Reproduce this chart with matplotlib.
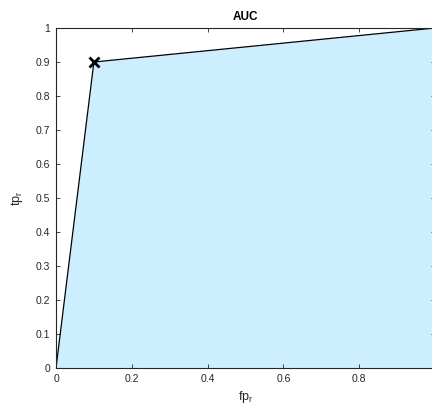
import matplotlib
matplotlib.use("Agg")
import matplotlib.pyplot as plt

# ROC points: false positive rate vs true positive rate
fp_rate = [0.0, 0.1, 1.0]
tp_rate = [0.0, 0.9, 1.0]
# operating point marked on the curve
op_fp = [0.1]
op_tp = [0.9]

x_ticks = [0, 0.2, 0.4, 0.6, 0.8, 1.0]
x_tick_labels = ['0', '0.2', '0.4', '0.6', '0.8', '']
y_ticks = [0, 0.1, 0.2, 0.3, 0.4, 0.5, 0.6, 0.7, 0.8, 0.9, 1.0]
y_tick_labels = ['0', '0.1', '0.2', '0.3', '0.4', '0.5', '0.6', '0.7', '0.8', '0.9', '1']

plt.rcParams['font.family'] = ['Liberation Sans', 'DejaVu Sans']
plt.rcParams['mathtext.fontset'] = 'custom'
plt.rcParams['mathtext.rm'] = 'Liberation Sans'
plt.rcParams['mathtext.default'] = 'regular'

axis_col = '#262626'
fig = plt.figure(figsize=(4.32, 4.12), dpi=100)
ax = fig.add_axes([56/432, 44/412, (435-56)/432, (368-28)/412])

ax.fill_between(fp_rate, tp_rate, 0, color='#CCEEFF', linewidth=0, zorder=1)
ax.plot(fp_rate, tp_rate, color='black', linewidth=0.9, zorder=2)
ax.plot(op_fp, op_tp, linestyle='none', marker='x', markersize=6.5,
        markeredgewidth=2, color='black', zorder=3)

ax.set_xlim(0, 1)
ax.set_ylim(0, 1)
ax.set_xticks(x_ticks)
ax.set_xticklabels(x_tick_labels)
ax.set_yticks(y_ticks)
ax.set_yticklabels(y_tick_labels)
ax.tick_params(direction='in', length=3, width=0.6, colors=axis_col,
               labelsize=7.5, top=True, right=True, pad=4)
for s in ax.spines.values():
    s.set_color(axis_col)
    s.set_linewidth(0.8)

ax.set_title('AUC', fontsize=8.5, fontweight='bold', pad=6)
ax.set_xlabel('fp$_r$', fontsize=9, color=axis_col, labelpad=4)
ax.set_ylabel('tp$_r$', fontsize=9, color=axis_col, labelpad=8)

fig.savefig('out.png', dpi=100)
